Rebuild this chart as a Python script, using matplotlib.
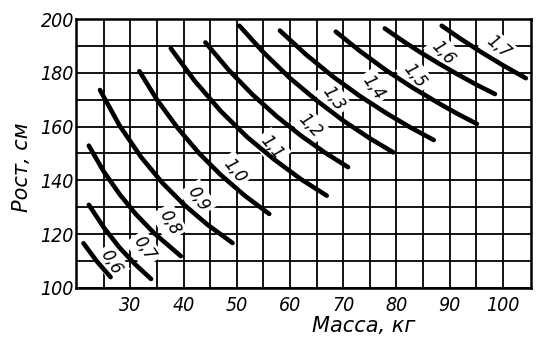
import matplotlib.pyplot as plt
from matplotlib import font_manager

# narrow italic lettering like the printed nomogram, if the narrow face is there
installed = {f.name for f in font_manager.fontManager.ttflist}
narrow = 'Liberation Sans Narrow' if 'Liberation Sans Narrow' in installed else 'DejaVu Sans'
plt.rcParams['font.family'] = [narrow, 'DejaVu Sans']
plt.rcParams['font.stretch'] = 'condensed'

# body surface area curves: mass (kg) vs height (cm)
levels = ['0,6', '0,7', '0,8', '0,9', '1,0', '1,1', '1,2', '1,3', '1,4', '1,5', '1,6', '1,7']

mass_06 = [21.2, 23.7, 26.3]
height_06 = [116.6, 109.9, 104.0]
mass_07 = [22.2, 25.0, 28.0, 31.0, 33.9]
height_07 = [130.9, 122.5, 114.9, 108.6, 103.3]
mass_08 = [22.2, 25.0, 28.0, 31.0, 34.5, 39.5]
height_08 = [152.9, 143.3, 134.8, 127.5, 120.3, 111.8]
mass_09 = [24.3, 28.0, 32.0, 36.0, 40.0, 44.5, 49.2]
height_09 = [173.6, 160.3, 148.7, 139.1, 131.1, 123.5, 116.7]
mass_10 = [31.7, 35.0, 39.0, 43.0, 47.0, 51.5, 56.1]
height_10 = [180.6, 170.0, 159.2, 149.9, 142.0, 134.3, 127.5]
mass_11 = [37.6, 42.0, 47.0, 52.0, 57.0, 62.0, 66.9]
height_11 = [189.1, 177.2, 165.7, 156.0, 147.8, 140.5, 134.3]
mass_12 = [44.1, 48.5, 53.0, 57.5, 62.0, 66.5, 70.9]
height_12 = [191.3, 181.0, 171.8, 163.8, 156.7, 150.4, 144.9]
mass_13 = [50.5, 55.0, 60.0, 65.0, 70.0, 75.0, 79.4]
height_13 = [197.5, 187.6, 178.0, 169.7, 162.2, 155.6, 150.4]
mass_14 = [58.1, 63.0, 68.0, 73.0, 78.0, 82.5, 87.0]
height_14 = [195.7, 186.8, 178.7, 171.5, 165.1, 159.8, 155.0]
mass_15 = [68.6, 73.0, 78.0, 83.0, 88.0, 91.5, 95.1]
height_15 = [195.3, 188.3, 181.0, 174.5, 168.6, 164.7, 161.0]
mass_16 = [77.8, 81.0, 84.5, 88.0, 91.5, 95.0, 98.5]
height_16 = [196.5, 192.1, 187.6, 183.4, 179.4, 175.6, 172.1]
mass_17 = [88.5, 92.0, 96.0, 100.0, 104.3]
height_17 = [197.5, 192.7, 187.6, 182.8, 178.0]

curves = [(mass_06, height_06), (mass_07, height_07), (mass_08, height_08),
          (mass_09, height_09), (mass_10, height_10), (mass_11, height_11),
          (mass_12, height_12), (mass_13, height_13), (mass_14, height_14),
          (mass_15, height_15), (mass_16, height_16), (mass_17, height_17)]

# where each curve's value is written
label_mass = [26.4, 32.6, 37.3, 42.7, 49.5, 56.6, 63.8, 68.1, 75.6, 83.5, 88.8, 99.1]
label_height = [109.6, 114.5, 124.4, 133.1, 143.6, 152.3, 160.3, 170.3, 174.6, 178.9, 187.6, 189.5]
label_angle = [-58, -55, -60, -57, -52, -50, -47, -55, -55, -52, -48, -40]

x_ticks = [30, 40, 50, 60, 70, 80, 90, 100]
y_ticks = [100, 120, 140, 160, 180, 200]

fig = plt.figure(figsize=(5.47, 3.46), dpi=100)
ax = fig.add_axes([0.139, 0.168, 0.832, 0.777])
ax.set_xlim(19.8, 105.3)
ax.set_ylim(100, 200)

ax.set_xticks(x_ticks)
ax.set_xticks(range(25, 105, 10), minor=True)
ax.set_yticks(y_ticks)
ax.set_yticks(range(110, 200, 20), minor=True)
ax.tick_params(which='both', length=0)
ax.tick_params(axis='x', pad=6)
ax.tick_params(axis='y', pad=1.5)
for lab in ax.get_xticklabels() + ax.get_yticklabels():
    lab.set_fontsize(14)
    lab.set_fontstyle('italic')

ax.set_axisbelow(True)
ax.grid(which='both', color='black', lw=1.3)
for s in ax.spines.values():
    s.set_linewidth(1.8)

for (m, h) in curves:
    ax.plot(m, h, color='black', lw=3.3, solid_capstyle='round',
            solid_joinstyle='round', zorder=3)

for txt, x, y, a in zip(levels, label_mass, label_height, label_angle):
    ax.text(x, y, txt, rotation=a, ha='center', va='center', fontsize=13,
            style='italic', zorder=2, rotation_mode='anchor',
            bbox=dict(facecolor='white', edgecolor='none', pad=2.5))

ax.set_xlabel('Масса, кг', fontsize=15, style='italic',
              family='DejaVu Sans', stretch='normal')
ax.xaxis.set_label_coords(0.631, -0.104)
ax.set_ylabel('Рост, см', fontsize=15, style='italic',
              family='DejaVu Sans', stretch='normal')
ax.yaxis.set_label_coords(-0.097, 0.45)

fig.savefig('out.png', dpi=100)
